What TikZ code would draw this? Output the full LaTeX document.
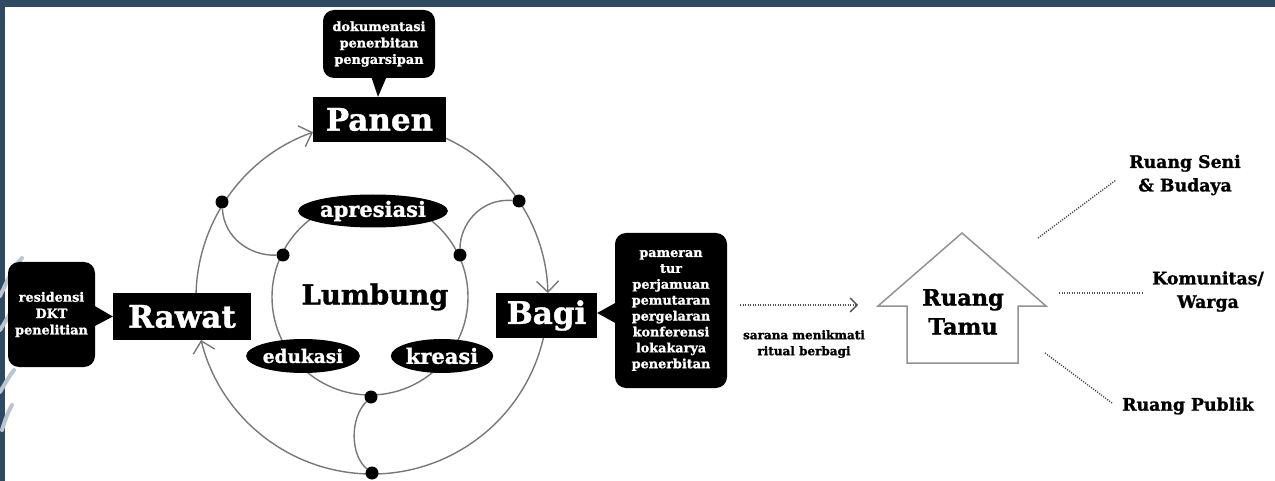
\documentclass[tikz,border=0pt]{standalone}
\usepackage{fontspec}
\setmainfont{DejaVu Serif}[BoldFeatures={FakeBold=1.2}]
\usetikzlibrary{arrows.meta,calc,shapes.geometric}
\definecolor{band}{RGB}{46,74,99}
\definecolor{swirlc}{RGB}{185,198,210}
\definecolor{ring}{RGB}{120,120,120}
\definecolor{dotc}{RGB}{80,80,80}
\begin{document}
\begin{tikzpicture}[x=1pt,y=-1pt,
  stagebox/.style={fill=black,text=white,inner sep=0pt,font=\bfseries\fontsize{31}{31}\selectfont},
  callout/.style={fill=black,text=white,rounded corners=11pt,inner sep=0pt,align=center,
     font=\bfseries\fontsize{12.8}{16.4}\selectfont},
  blob/.style={ellipse,fill=black,text=white,inner sep=0pt,font=\bfseries\fontsize{21}{21}\selectfont},
  ringline/.style={draw=ring,line width=1.4pt},
  cyc/.style={ringline,-{Straight Barb[length=11pt,width=22pt]}},
  joint/.style={circle,fill=black,inner sep=0pt,minimum size=13pt},
  dots/.style={draw=dotc,line width=1.4pt,dash pattern=on 1.2pt off 1.3pt},
  lab/.style={align=center,font=\bfseries\fontsize{17.3}{23.5}\selectfont,inner sep=0pt},
  swirl/.style={draw=swirlc,line width=4pt,line cap=round}
]
\useasboundingbox (0,0) rectangle (1275,481);
\fill[white] (0,0) rectangle (1275,481);
% frame
\fill[band] (0,0) rectangle (1275,7);
\fill[band] (0,0) rectangle (5,481);
\draw[swirl] (0,296) .. controls (8,280) and (12,268) .. (22,258);
\draw[swirl] (0,330) .. controls (8,318) and (14,305) .. (22,296);
\draw[swirl] (0,392) .. controls (6,382) and (10,375) .. (14,370);
\draw[swirl] (2,430) .. controls (5,420) and (8,412) .. (12,405);

% cycle geometry
\coordinate (O) at (372,298);
\coordinate (I) at (370,297);
\def\R{176}
\draw[ringline] (I) circle[radius=98];
\draw[cyc] ($(O)+(-178.4:\R)$) arc[start angle=-178.4, end angle=-109.6, radius=\R];
\draw[cyc] ($(O)+(-65.1:\R)$) arc[start angle=-65.1, end angle=-1.6, radius=\R];
\draw[cyc] ($(O)+(13.1:\R)$) arc[start angle=13.1, end angle=166.2, radius=\R];
\draw[ringline] ($(O)+(-109.6:\R)$) arc[start angle=-109.6, end angle=-65.1, radius=\R];
\draw[ringline] ($(O)+(-1.6:\R)$) arc[start angle=-1.6, end angle=13.1, radius=\R];
\draw[ringline] ($(O)+(166.2:\R)$) arc[start angle=166.2, end angle=181.6, radius=\R];

% joints
\node[joint] (o1) at (222,202) {};
\node[joint] (o2) at (519,201) {};
\node[joint] (o3) at (372,473) {};
\node[joint] (i1) at (283,255) {};
\node[joint] (i2) at (460,255) {};
\node[joint] (i3) at (371,397) {};
\draw[ringline] (o1) .. controls (224,238) and (250,256) .. (i1);
\draw[ringline] (o2) .. controls (480,198) and (460,225) .. (i2);
\draw[ringline] (i3) .. controls (350,418) and (350,455) .. (o3);

% stage boxes
\node[stagebox,minimum width=133pt,minimum height=45pt] (panen) at (379.5,119.5) {Panen};
\node[stagebox,minimum width=138pt,minimum height=47pt] (rawat) at (182,316.5) {Rawat};
\node[stagebox,minimum width=101pt,minimum height=45pt] (bagi) at (546.5,315.5) {Bagi};

% inner blobs
\node[blob,minimum width=130pt,minimum height=33pt] (apr) at (373,211) {apresiasi};
\node[blob,minimum width=103pt,minimum height=34pt,font=\bfseries\fontsize{18.5}{18.5}\selectfont] (edu) at (303,356) {edukasi};
\node[blob,minimum width=101pt,minimum height=34pt] (kre) at (442,356) {kreasi};
\node[font=\bfseries\fontsize{27.5}{27.5}\selectfont] (lumbung) at (375,297) {Lumbung};

% callouts
\node[callout,minimum width=112pt,minimum height=68pt] (ctop) at (379,44)
  {dokumentasi\\penerbitan\\pengarsipan};
\fill[black] (371,76) -- (387,76) -- (panen.north -| 378,0) -- cycle;
\node[callout,minimum width=87pt,minimum height=105pt] (cleft) at (51.5,314.5)
  {residensi\\DKT\\penelitian};
\fill[black] (93,305) -- (93,327) -- (rawat.west) -- cycle;
\node[callout,minimum width=112pt,minimum height=155pt,font=\bfseries\fontsize{12.8}{15.9}\selectfont] (cright) at (671,310.5)
  {pameran\\tur\\perjamuan\\pemutaran\\pergelaran\\konferensi\\lokakarya\\penerbitan};
\fill[black] (617,302) -- (617,324) -- (bagi.east |- 0,313) -- cycle;

% flow arrow
\coordinate (fa) at (740,305);
\coordinate (fb) at (858,305);
\draw[dots,-{Straight Barb[length=7pt,width=14pt]}] (fa) -- (fb);
\node[align=center,font=\bfseries\fontsize{12}{16}\selectfont] (sarana) at (804,344)
  {sarana menikmati\\ritual berbagi};

% house
\draw[draw=ring!80,line width=1.5pt,line join=miter]
  (962,233) -- (1046,306) -- (1018,306) -- (1018,363) -- (907,363) -- (907,306) -- (878,306) -- cycle;
\node[align=center,font=\bfseries\fontsize{22.5}{29}\selectfont] (tamu) at (963,312) {Ruang\\Tamu};

% outlets
\node[lab] (seni) at (1185,175) {Ruang Seni\\\& Budaya};
\node[lab] (komunitas) at (1208,291.5) {Komunitas/\\Warga};
\node[lab] (publik) at (1188,406) {Ruang Publik};
\coordinate (h1) at (1038,238);
\coordinate (s1) at (1116,180);
\coordinate (h2) at (1059,293);
\coordinate (s2) at (1143,293);
\coordinate (h3) at (1045,353);
\coordinate (s3) at (1112,403);
\draw[dots] (h1) -- (s1);
\draw[dots] (h2) -- (s2);
\draw[dots] (h3) -- (s3);
\end{tikzpicture}
\end{document}
